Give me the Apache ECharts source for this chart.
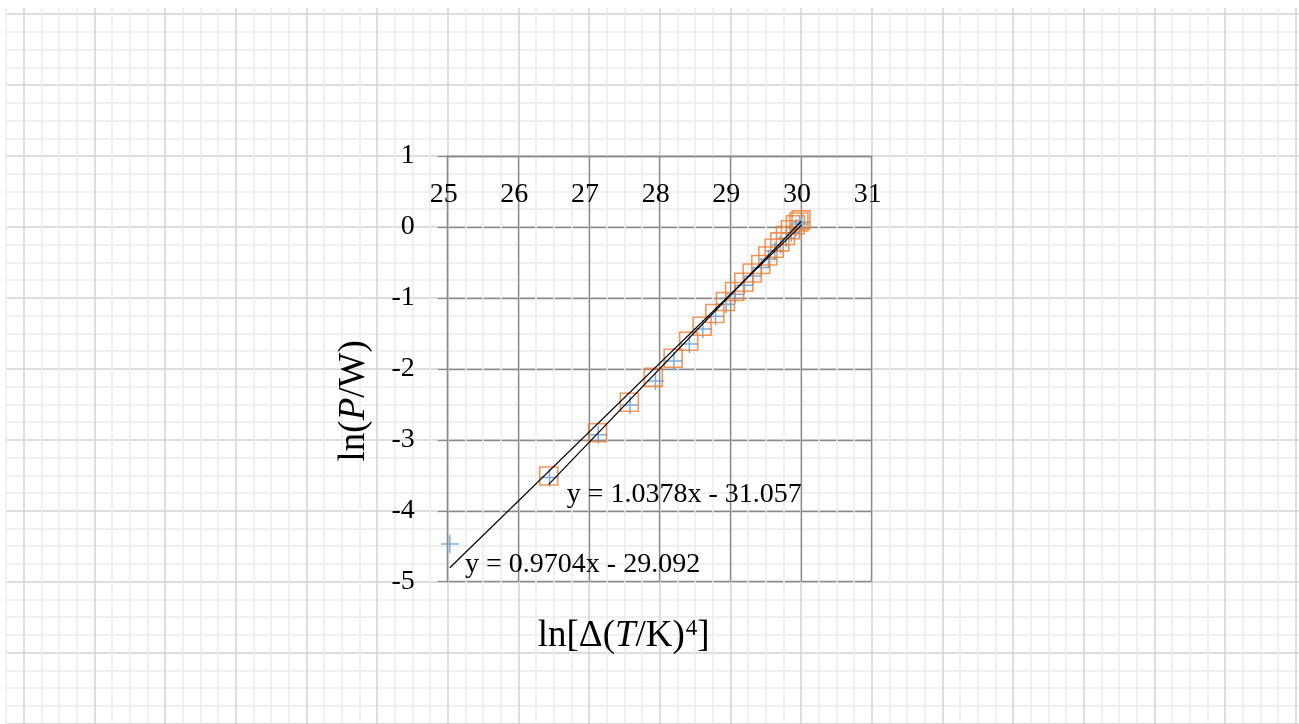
<!DOCTYPE html>
<html>
<head>
<meta charset="utf-8">
<script src="https://cdn.jsdelivr.net/npm/echarts@6/dist/echarts.min.js"></script>
<style>
html,body{margin:0;padding:0;background:#ffffff;}
#chart{width:1299px;height:724px;}
</style>
</head>
<body>
<div id="chart"></div>
<script>
// ---- data ----
const xTickLabels = [25, 26, 27, 28, 29, 30, 31];
const yTickLabels = [1, 0, -1, -2, -3, -4, -5];

// series 1 (blue "+")
const blueX = [25.03, 26.44, 27.13, 27.58, 27.94, 28.20, 28.42, 28.61, 28.79, 28.94, 29.07, 29.20, 29.32, 29.44, 29.54, 29.63, 29.71, 29.79, 29.86, 29.93, 29.98, 30.01];
const blueY = [-4.47, -3.53, -2.93, -2.51, -2.17, -1.89, -1.65, -1.44, -1.26, -1.09, -0.95, -0.82, -0.69, -0.57, -0.45, -0.34, -0.25, -0.16, -0.08, -0.01, 0.04, 0.07];

// series 2 (orange open squares)
const orangeX = [26.43, 27.12, 27.57, 27.91, 28.19, 28.41, 28.60, 28.78, 28.93, 29.06, 29.19, 29.31, 29.43, 29.53, 29.62, 29.70, 29.78, 29.85, 29.92, 29.97, 30.00];
const orangeY = [-3.51, -2.90, -2.47, -2.12, -1.85, -1.61, -1.40, -1.22, -1.05, -0.91, -0.78, -0.65, -0.53, -0.41, -0.30, -0.21, -0.12, -0.04, 0.03, 0.07, 0.10];

// linear trendlines (as printed on the chart)
const trendSlopes = [0.9704, 1.0378];
const trendIntercepts = [-29.092, -31.057];
const trendLabels = ['y = 0.9704x - 29.092', 'y = 1.0378x - 31.057'];

// ---- build ----
const FONT = 'Liberation Serif';
const zip = (xs, ys) => xs.map((x, i) => [x, ys[i]]);
const trendData = (xs, k) => {
  const x0 = Math.min(...xs), x1 = Math.max(...xs);
  return [[x0, trendSlopes[k] * x0 + trendIntercepts[k]], [x1, trendSlopes[k] * x1 + trendIntercepts[k]]];
};

const paperColors = ['#ebebeb', '#d3d3d3', '#ebebeb', '#ebebeb'];
const plotLine = '#8a8a8a';

const chart = echarts.init(document.getElementById('chart'), null, {renderer: 'canvas'});
chart.setOption({
  animation: false,
  backgroundColor: '#ffffff',
  grid: [
    { // graph-paper background
      left: 6, top: 8, width: 1307.3, height: 733.3,
      containLabel: false, outerBoundsMode: 'none', show: false
    },
    { // plot area
      left: 447.7, top: 156, width: 424, height: 425.7,
      containLabel: false, outerBoundsMode: 'none', show: false
    }
  ],
  xAxis: [
    {
      gridIndex: 0, type: 'value', min: 18.75, max: 37.25, interval: 0.25,
      axisLine: {show: false}, axisTick: {show: false}, axisLabel: {show: false},
      splitLine: {show: true, showMinLine: true, showMaxLine: true, lineStyle: {color: paperColors, width: 1.5}}
    },
    {
      gridIndex: 1, type: 'value', position: 'top',
      min: xTickLabels[0], max: xTickLabels[xTickLabels.length - 1], interval: 1,
      axisLine: {show: true, onZero: false, lineStyle: {color: plotLine, width: 1.3}},
      axisTick: {show: false},
      axisLabel: {show: true, inside: true, margin: 25, fontSize: 28, fontFamily: FONT, color: '#000',
                  padding: [0, 8, 0, 0]},
      splitLine: {show: true, lineStyle: {color: plotLine, width: 1.3}}
    },
    {
      gridIndex: 1, type: 'value', position: 'bottom',
      min: xTickLabels[0], max: xTickLabels[xTickLabels.length - 1], interval: 1,
      axisLine: {show: false, onZero: false}, axisTick: {show: false}, axisLabel: {show: false},
      splitLine: {show: false},
      name: '{a|ln[Δ(}{i|T}{a|/K)}{s|4}{a|]}',
      nameLocation: 'middle', nameGap: 36,
      nameTextStyle: {
        padding: [0, 72, 0, 0],
        rich: {
          a: {fontSize: 37, fontFamily: FONT, color: '#000'},
          i: {fontSize: 37, fontFamily: FONT, fontStyle: 'italic', color: '#000'},
          s: {fontSize: 23, fontFamily: FONT, color: '#000', verticalAlign: 'top', padding: [0, 0, 14, 1]}
        }
      }
    }
  ],
  yAxis: [
    {
      gridIndex: 0, type: 'value', min: -7.25, max: 3.086, interval: 0.25,
      axisLine: {show: false}, axisTick: {show: false}, axisLabel: {show: false},
      splitLine: {show: true, showMinLine: true, showMaxLine: false, lineStyle: {color: paperColors, width: 1.5}}
    },
    {
      gridIndex: 1, type: 'value',
      min: yTickLabels[yTickLabels.length - 1], max: yTickLabels[0], interval: 1,
      axisLine: {show: true, onZero: false, lineStyle: {color: plotLine, width: 1.3}},
      axisTick: {show: true, inside: false, length: 10, lineStyle: {color: plotLine, width: 1.3}},
      axisLabel: {show: true, margin: 33, fontSize: 28, fontFamily: FONT, color: '#000', padding: [11, 0, 0, 0]},
      splitLine: {show: true, lineStyle: {color: plotLine, width: 1.3}},
      name: '{a|ln(}{i|P}{a|/W)}',
      nameLocation: 'middle', nameGap: 75,
      nameTextStyle: {
        padding: [0, 64, 0, 0],
        rich: {
          a: {fontSize: 37, fontFamily: FONT, color: '#000'},
          i: {fontSize: 37, fontFamily: FONT, fontStyle: 'italic', color: '#000'}
        }
      }
    }
  ],
  series: [
    {
      name: 'series1', type: 'scatter', xAxisIndex: 1, yAxisIndex: 1,
      data: zip(blueX, blueY),
      symbol: 'path://M0,5L10,5M5,0L5,10', symbolSize: 18,
      itemStyle: {color: 'rgba(0,0,0,0)', borderColor: '#5B9BD5', borderWidth: 1.5},
      silent: true, z: 3
    },
    {
      name: 'series2', type: 'scatter', xAxisIndex: 1, yAxisIndex: 1,
      data: zip(orangeX, orangeY),
      symbol: 'rect', symbolSize: 18,
      itemStyle: {color: 'rgba(0,0,0,0)', borderColor: '#ED7D31', borderWidth: 1.6},
      silent: true, z: 4
    },
    {
      name: 'trend1', type: 'line', xAxisIndex: 1, yAxisIndex: 1,
      data: trendData(blueX, 0), symbol: 'none',
      lineStyle: {color: '#000', width: 1.2}, silent: true, z: 5,
      markPoint: {
        symbol: 'circle', symbolSize: 0, silent: true,
        label: {show: true, position: 'right', distance: 0, formatter: trendLabels[0],
                fontSize: 28, fontFamily: FONT, color: '#000'},
        data: [{coord: [25.245, -4.76]}]
      }
    },
    {
      name: 'trend2', type: 'line', xAxisIndex: 1, yAxisIndex: 1,
      data: trendData(orangeX, 1), symbol: 'none',
      lineStyle: {color: '#000', width: 1.2}, silent: true, z: 5,
      markPoint: {
        symbol: 'circle', symbolSize: 0, silent: true,
        label: {show: true, position: 'right', distance: 0, formatter: trendLabels[1],
                fontSize: 28, fontFamily: FONT, color: '#000'},
        data: [{coord: [26.684, -3.77]}]
      }
    }
  ]
});
</script>
</body>
</html>
